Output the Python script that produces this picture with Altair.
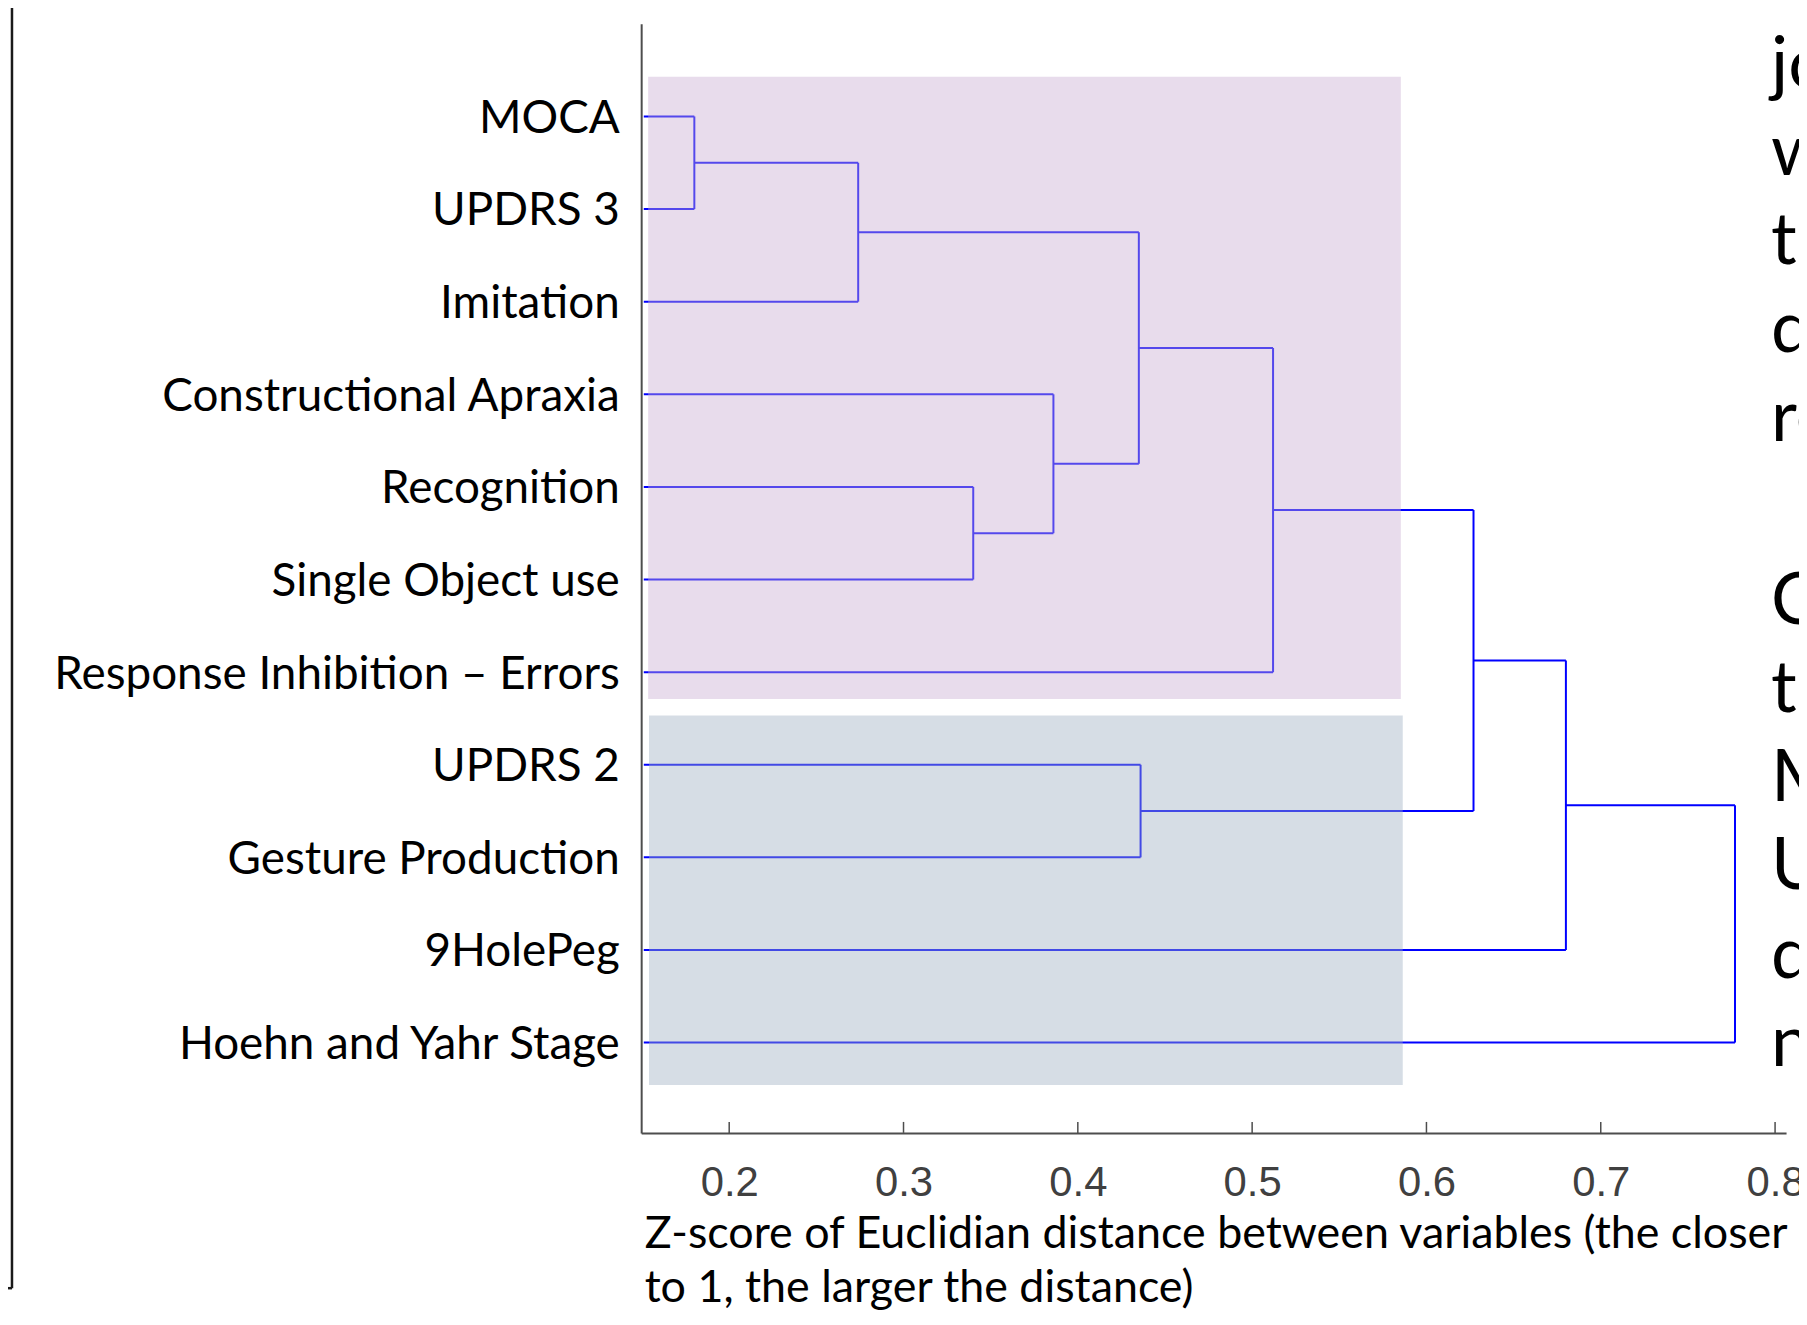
import altair as alt
import pandas as pd

# ---- data ----
leaves = ["MOCA", "UPDRS 3", "Imitation", "Constructional Apraxia", "Recognition",
          "Single Object use", "Response Inhibition \u2013 Errors", "UPDRS 2",
          "Gesture Production", "9HolePeg", "Hoehn and Yahr Stage"]
# linkage: node ids 0..10 are leaves, merge k creates node 11+k
merge_left = [0, 11, 4, 3, 12, 7, 15, 17, 18, 19]
merge_right = [1, 2, 5, 13, 14, 8, 6, 16, 9, 10]
merge_height = [0.180, 0.274, 0.340, 0.386, 0.435, 0.436, 0.512, 0.627, 0.680, 0.777]
leaf_base = 0.151

group_names = ["cluster A", "cluster B"]
group_x0 = [0.1535, 0.1540]
group_x1 = [0.5853, 0.5864]
group_y0 = [0.570, 7.469]
group_y1 = [7.290, 11.459]

tick_values = [0.2, 0.3, 0.4, 0.5, 0.6, 0.7, 0.8]
x_title = ["Z-score of Euclidian distance between variables (the closer",
           "to 1, the larger the distance)"]

side_text = ["jo", "w", "t", "d", "re", "C", "t", "M", "U", "d", "n"]
side_row = [0.688, 1.634, 2.590, 3.548, 4.505, 6.484, 7.430, 8.387, 9.344, 10.300, 11.258]
side_x = 0.7977

# ---- dendrogram segments from linkage ----
pos = {i: i + 1 for i in range(len(leaves))}
xpos = {i: leaf_base for i in range(len(leaves))}
segs = []
for k, (a, b, h) in enumerate(zip(merge_left, merge_right, merge_height)):
    segs.append(dict(x=xpos[a], x2=h, y=pos[a], y2=pos[a]))
    segs.append(dict(x=xpos[b], x2=h, y=pos[b], y2=pos[b]))
    segs.append(dict(x=h, x2=h, y=pos[a], y2=pos[b]))
    node = len(leaves) + k
    pos[node] = (pos[a] + pos[b]) / 2
    xpos[node] = h
seg_df = pd.DataFrame(segs)

rect_df = pd.DataFrame(dict(g=group_names, x=group_x0, x2=group_x1, y=group_y0, y2=group_y1))
tick_df = pd.DataFrame(dict(v=tick_values, y=[0.0] * len(tick_values)))
side_df = pd.DataFrame(dict(t=side_text, r=side_row, x=[side_x] * len(side_text)))

W, H = 1150, 1114
xscale = alt.Scale(domain=[0.1495, 0.8063], nice=False, zero=False)
yscale = alt.Scale(domain=[0, 11.975], nice=False, zero=False, reverse=True)

label_expr = "[" + ",".join("'" + s + "'" for s in leaves) + "][datum.value - 1]"

x_axis = alt.Axis(values=tick_values, format=".1f", ticks=False, tickSize=0, grid=False,
                  labelFont="Liberation Sans", labelFontSize=42, labelColor="#404040",
                  labelPadding=30, labelFlush=False, labelOverlap=False,
                  domainColor="#4d4d4d", domainWidth=2,
                  title=x_title, titleFont="Lato", titleFontSize=45, titleFontWeight="normal",
                  titleColor="#000000", titleAlign="left", titleAnchor="start", titleLimit=0,
                  titleBaseline="alphabetic", titleX=3, titleY=115, titleLineHeight=54)
y_axis = alt.Axis(values=list(range(1, len(leaves) + 1)), labelExpr=label_expr,
                  ticks=False, tickSize=0, grid=False, labelLimit=0,
                  labelFont="Lato", labelFontSize=46, labelColor="#000000",
                  labelPadding=22, labelOffset=2, labelFlush=False, labelOverlap=False,
                  domainColor="#4d4d4d", domainWidth=2, title=None)


def X(field):
    return alt.X(field, type="quantitative", scale=xscale, axis=x_axis)


def Y(field):
    return alt.Y(field, type="quantitative", scale=yscale, axis=y_axis)


lines = alt.Chart(seg_df).mark_rule(color="#0000ff", strokeWidth=2).encode(
    x=X("x"), x2="x2:Q", y=Y("y"), y2="y2:Q",
)

rects = alt.Chart(rect_df).mark_rect(opacity=0.42).encode(
    x=X("x"), x2="x2:Q", y=Y("y"), y2="y2:Q",
    color=alt.Color("g:N", scale=alt.Scale(domain=group_names, range=["#c8abd2", "#9eaec0"]),
                    legend=None),
)

ticks = alt.Chart(tick_df).mark_rule(color="#4d4d4d", strokeWidth=1.5).encode(
    x=X("v"),
    y=alt.value(H),
    y2=alt.value(H - 11),
)

side = alt.Chart(side_df).mark_text(align="left", baseline="alphabetic", font="Lato",
                                    fontSize=72, color="#000000").encode(
    x=X("x"), y=Y("r"), text="t:N",
)

border_v = alt.Chart(pd.DataFrame(dict(a=[0]))).mark_rule(color="#1a1a1a", strokeWidth=2.5).encode(
    x=alt.value(-632), y=alt.value(-21), y2=alt.value(1270))
border_h = alt.Chart(pd.DataFrame(dict(a=[0]))).mark_rule(color="#1a1a1a", strokeWidth=2.5).encode(
    x=alt.value(-650), x2=alt.value(-632), y=alt.value(1270))

chart = alt.layer(lines, rects, ticks, side, border_v, border_h).properties(
    width=W, height=H,
    autosize=alt.AutoSizeParams(type="none"),
    padding={"left": 636, "top": 13, "right": 13, "bottom": 178},
).configure_view(stroke=None)

chart.save("out.html", embed_options={"renderer": "svg", "actions": False})
